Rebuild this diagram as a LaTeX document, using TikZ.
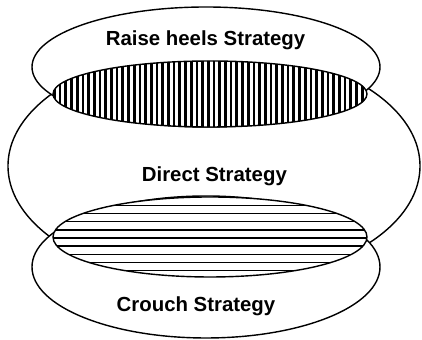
\documentclass[tikz,border=0pt]{standalone}
\usepackage{fontspec}
\setmainfont{Liberation Sans}
\usetikzlibrary{positioning}

\begin{document}
\begin{tikzpicture}[
    ring/.style={draw, line width=1pt, fill=white},
    strategy/.style={font=\fontsize{14.5}{17}\selectfont\bfseries, anchor=base, inner sep=0pt}
  ]
  \useasboundingbox (0,0) rectangle (10.55,8.5);

  % direct strategy (big one)
  \draw[line width=1pt] (5.35,4.35) ellipse [x radius=5.15, y radius=2.925];

  % raise heels and crouch
  \draw[ring] (5.15,6.825) ellipse [x radius=4.35, y radius=1.5];
  \draw[ring] (5.15,1.825) ellipse [x radius=4.35, y radius=1.775];

  % overlap with raise heels: vertical stripes
  \begin{scope}
    \clip (5.25,6.15) ellipse [x radius=3.925, y radius=0.825];
    \fill[white] (1.2,5.2) rectangle (9.3,7.1);
    \foreach \x in {1.36,1.5025,...,9.3}
      \draw[line width=1.9pt] (\x,5.2) -- (\x,7.1);
  \end{scope}
  \draw[line width=1pt] (5.25,6.15) ellipse [x radius=3.925, y radius=0.825];

  % overlap with crouch: horizontal lines
  \begin{scope}
    \clip (5.25,2.575) ellipse [x radius=3.925, y radius=1];
    \fill[white] (1.2,1.5) rectangle (9.3,3.7);
    \foreach \i in {-4,...,4}
      \draw[line width=0.9pt] (1.2,2.55+\i*0.2025) -- (9.3,2.55+\i*0.2025);
  \end{scope}
  \draw[line width=1pt] (5.25,2.575) ellipse [x radius=3.925, y radius=1];

  % labels
  \node[strategy] (raise) at (5.14,7.35) {Raise heels Strategy};
  \node[strategy] (direct) at (5.36,3.95) {Direct Strategy};
  \node[strategy] (crouch) at (4.9,0.71) {Crouch Strategy};
\end{tikzpicture}
\end{document}
